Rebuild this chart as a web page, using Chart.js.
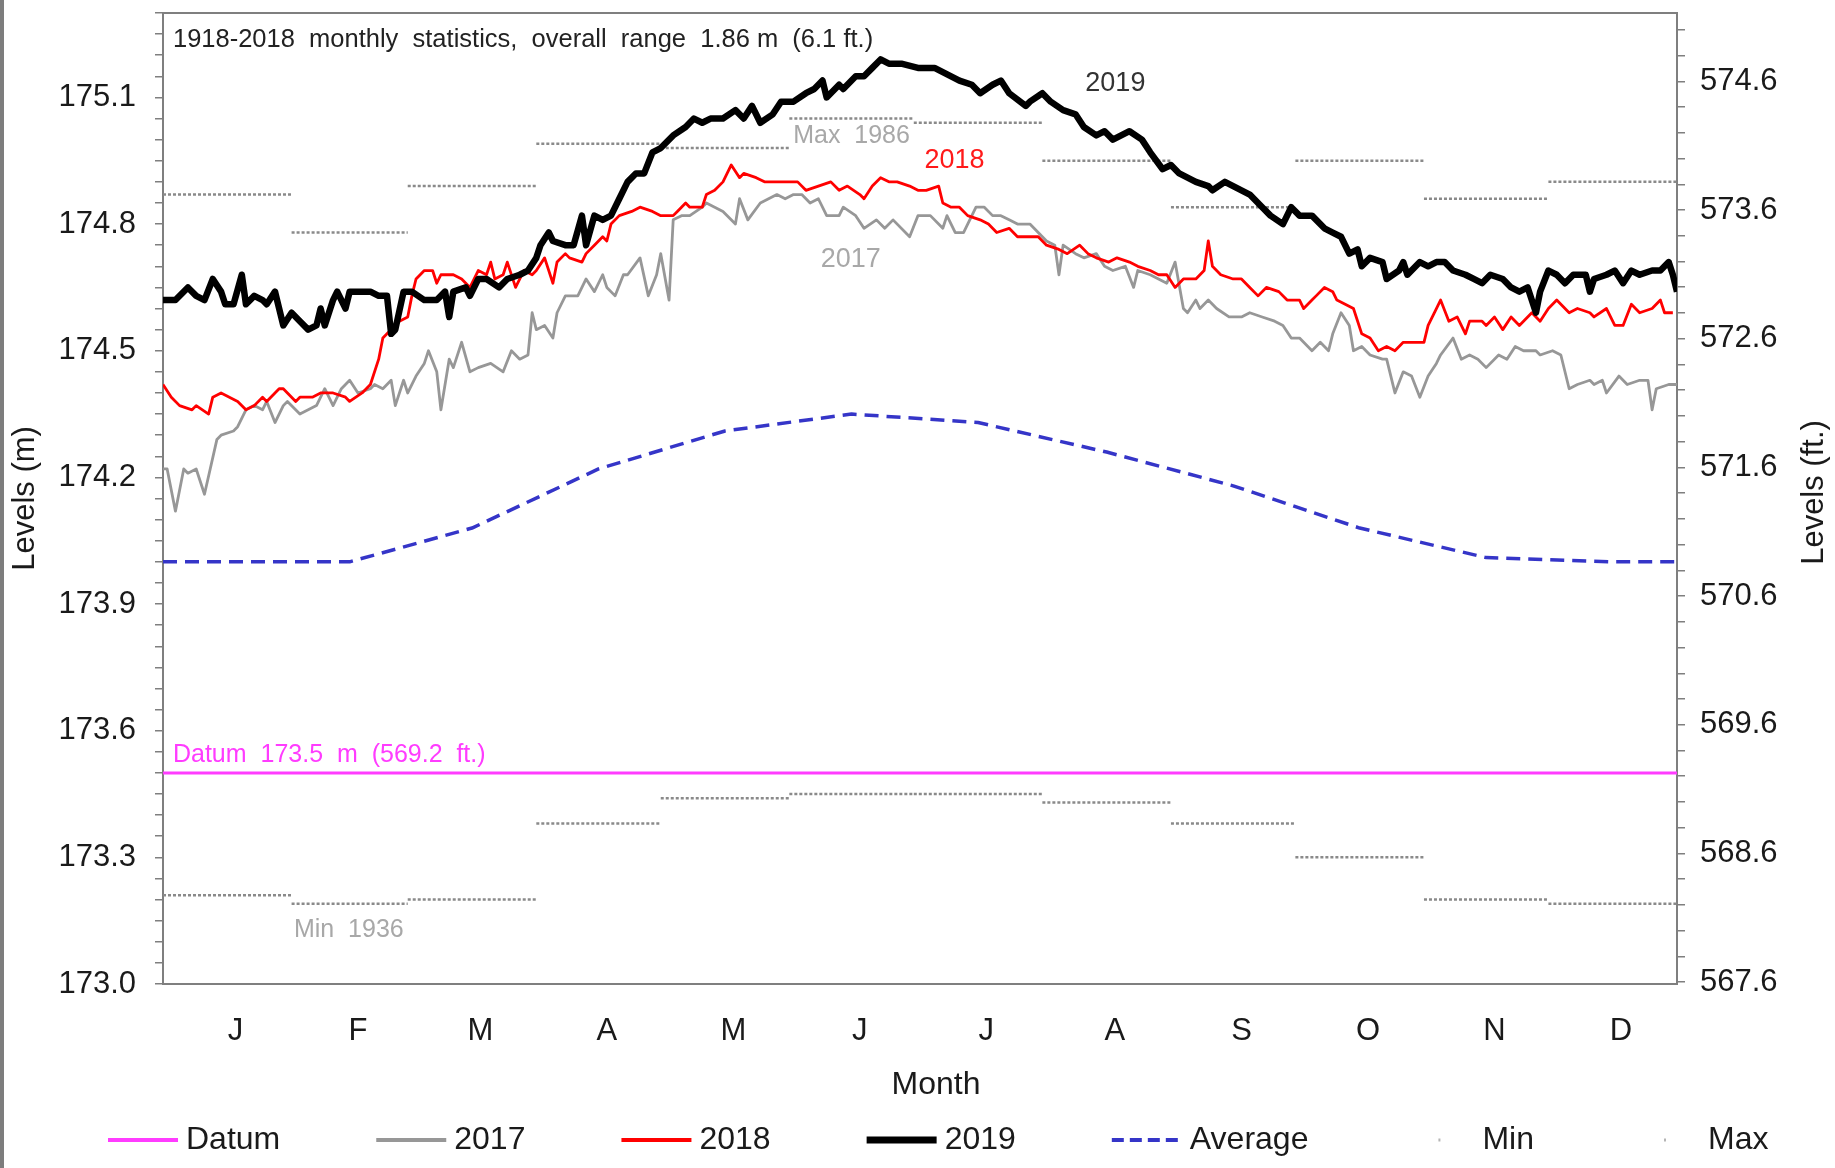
<!DOCTYPE html>
<html>
<head>
<meta charset="utf-8">
<title>Water levels</title>
<script src="https://cdn.jsdelivr.net/npm/chart.js@4.4.0/dist/chart.umd.min.js"></script>
<style>
  html, body { margin: 0; padding: 0; background: #fff; }
  #wrap { position: relative; width: 1835px; height: 1168px; }
  #edge { position: absolute; left: 0; top: 0; width: 4px; height: 1168px; background: #7d7d7d; }
</style>
</head>
<body>
<div id="wrap"><canvas id="levelsChart"></canvas><div id="edge"></div></div>
<script>
// months (x axis is day of year)
const monthLabels = ['J', 'F', 'M', 'A', 'M', 'J', 'J', 'A', 'S', 'O', 'N', 'D'];
const monthStarts = [0, 31, 59, 90, 120, 151, 181, 212, 243, 273, 304, 334, 365];

// axis tick labels
const leftMajorTicks = ['173.0', '173.3', '173.6', '173.9', '174.2', '174.5', '174.8', '175.1'];
const rightMajorTicks = ['567.6', '568.6', '569.6', '570.6', '571.6', '572.6', '573.6', '574.6'];

// 1918-2018 monthly statistics (m)
const avgLevels = [174.00, 174.00, 174.08, 174.22, 174.31, 174.35, 174.33, 174.26, 174.18, 174.08, 174.01, 174.00];
const minLevels = [173.21, 173.19, 173.20, 173.38, 173.44, 173.45, 173.45, 173.43, 173.38, 173.30, 173.20, 173.19];
const maxLevels = [174.87, 174.78, 174.89, 174.99, 174.98, 175.05, 175.04, 174.95, 174.84, 174.95, 174.86, 174.90];
const datumLevel = 173.5;

// daily readings [day of year, level m]
const readings2017 = [
  [0,174.22],[1,174.22],[3,174.12],[5,174.22],[6,174.21],[8,174.22],[10,174.16],[13,174.29],[14,174.30],[17,174.31],
  [18,174.32],[20,174.36],[22,174.37],[24,174.36],[25,174.38],[27,174.33],[29,174.37],[30,174.38],[33,174.35],[35,174.36],
  [37,174.37],[39,174.41],[41,174.37],[43,174.41],[45,174.43],[47,174.40],[50,174.41],[51,174.42],[53,174.41],[55,174.43],
  [56,174.37],[58,174.43],[59,174.40],[61,174.44],[63,174.47],[64,174.50],[66,174.45],[67,174.36],[69,174.48],[70,174.46],
  [72,174.52],[74,174.45],[76,174.46],[79,174.47],[82,174.45],[84,174.50],[86,174.48],[88,174.49],[89,174.59],[90,174.55],
  [92,174.56],[94,174.53],[95,174.59],[97,174.63],[99,174.63],[100,174.63],[102,174.67],[104,174.64],[106,174.68],[107,174.65],
  [109,174.63],[111,174.68],[112,174.68],[115,174.72],[117,174.63],[119,174.68],[120,174.73],[122,174.62],[123,174.81],[125,174.82],
  [127,174.82],[130,174.84],[131,174.85],[133,174.84],[135,174.83],[138,174.80],[139,174.86],[141,174.81],[144,174.85],[146,174.86],
  [148,174.87],[150,174.86],[152,174.87],[154,174.87],[156,174.85],[158,174.86],[160,174.82],[163,174.82],[164,174.84],[167,174.82],
  [169,174.79],[172,174.81],[174,174.79],[176,174.81],[180,174.77],[182,174.82],[185,174.82],[188,174.79],[189,174.82],[191,174.78],
  [193,174.78],[196,174.84],[198,174.84],[200,174.82],[202,174.82],[204,174.81],[206,174.80],[209,174.80],[211,174.78],[213,174.76],
  [215,174.75],[216,174.68],[217,174.75],[220,174.73],[222,174.72],[225,174.73],[227,174.70],[229,174.69],[232,174.70],[234,174.65],
  [235,174.69],[238,174.68],[240,174.67],[242,174.66],[244,174.71],[246,174.60],[247,174.59],[249,174.62],[250,174.60],[252,174.62],
  [254,174.60],[257,174.58],[260,174.58],[262,174.59],[265,174.58],[268,174.57],[270,174.56],[272,174.53],[274,174.53],[277,174.50],
  [279,174.52],[281,174.50],[282,174.54],[284,174.59],[286,174.56],[287,174.50],[289,174.51],[291,174.49],[294,174.48],[295,174.48],
  [297,174.40],[299,174.45],[301,174.44],[303,174.39],[305,174.44],[307,174.47],[308,174.49],[311,174.53],[313,174.48],[315,174.49],
  [317,174.48],[319,174.46],[322,174.49],[324,174.48],[326,174.51],[328,174.50],[331,174.50],[332,174.49],[335,174.50],[337,174.49],
  [339,174.41],[341,174.42],[344,174.43],[345,174.42],[347,174.43],[348,174.40],[351,174.44],[353,174.42],[356,174.43],[358,174.43],
  [359,174.36],[360,174.41],[363,174.42],[365,174.42]
];

const readings2018 = [
  [0,174.42],[2,174.39],[4,174.37],[7,174.36],[8,174.37],[11,174.35],[12,174.39],[14,174.40],[16,174.39],[18,174.38],
  [20,174.36],[22,174.37],[24,174.39],[25,174.38],[28,174.41],[29,174.41],[32,174.38],[33,174.39],[36,174.39],[38,174.40],
  [41,174.40],[44,174.39],[45,174.38],[48,174.40],[50,174.42],[52,174.48],[53,174.53],[54,174.54],[56,174.56],[57,174.57],
  [59,174.58],[60,174.63],[61,174.67],[63,174.69],[65,174.69],[66,174.66],[67,174.68],[69,174.68],[70,174.68],[72,174.67],
  [74,174.65],[76,174.69],[78,174.68],[79,174.71],[80,174.67],[82,174.68],[83,174.71],[85,174.65],[87,174.69],[89,174.68],
  [90,174.69],[92,174.72],[94,174.66],[95,174.71],[97,174.73],[98,174.72],[101,174.71],[102,174.73],[104,174.75],[106,174.77],
  [107,174.76],[108,174.80],[110,174.82],[113,174.83],[115,174.84],[118,174.83],[120,174.82],[123,174.82],[124,174.83],[126,174.85],
  [127,174.84],[130,174.84],[131,174.87],[133,174.88],[135,174.90],[137,174.94],[139,174.91],[140,174.92],[143,174.91],[145,174.90],
  [147,174.90],[150,174.90],[153,174.90],[155,174.88],[158,174.89],[161,174.90],[163,174.88],[165,174.89],[168,174.87],[169,174.86],
  [171,174.89],[173,174.91],[175,174.90],[177,174.90],[180,174.89],[182,174.88],[184,174.88],[187,174.89],[188,174.85],[190,174.84],
  [192,174.84],[194,174.82],[197,174.81],[199,174.80],[201,174.78],[204,174.79],[206,174.77],[209,174.77],[211,174.77],[213,174.75],
  [216,174.74],[218,174.73],[221,174.75],[223,174.73],[225,174.72],[228,174.71],[230,174.72],[233,174.71],[235,174.70],[238,174.69],
  [240,174.68],[242,174.68],[244,174.65],[246,174.67],[249,174.67],[251,174.69],[252,174.76],[253,174.70],[255,174.68],[258,174.67],
  [260,174.67],[262,174.65],[264,174.63],[266,174.65],[269,174.64],[271,174.62],[274,174.62],[275,174.60],[277,174.62],[278,174.63],
  [280,174.65],[282,174.64],[283,174.62],[285,174.61],[287,174.60],[289,174.54],[291,174.53],[293,174.50],[295,174.51],[297,174.50],
  [299,174.52],[302,174.52],[304,174.52],[305,174.56],[307,174.60],[308,174.62],[310,174.57],[312,174.58],[314,174.54],[315,174.57],
  [318,174.57],[319,174.56],[321,174.58],[323,174.55],[325,174.58],[327,174.56],[330,174.59],[332,174.57],[334,174.60],[336,174.62],
  [339,174.59],[341,174.60],[344,174.59],[345,174.58],[348,174.60],[350,174.56],[352,174.56],[354,174.61],[356,174.59],[359,174.60],
  [361,174.62],[362,174.59],[364,174.59]
];

const readings2019 = [
  [0,174.62],[3,174.62],[6,174.65],[8,174.63],[10,174.62],[12,174.67],[14,174.64],[15,174.61],[17,174.61],[19,174.68],
  [20,174.61],[22,174.63],[24,174.62],[25,174.61],[27,174.64],[29,174.56],[31,174.59],[33,174.57],[35,174.55],[37,174.56],
  [38,174.60],[39,174.56],[41,174.62],[42,174.64],[44,174.60],[45,174.64],[48,174.64],[50,174.64],[52,174.63],[54,174.63],
  [55,174.54],[56,174.55],[58,174.64],[60,174.64],[63,174.62],[66,174.62],[68,174.64],[69,174.58],[70,174.64],[73,174.65],
  [74,174.63],[76,174.67],[78,174.67],[81,174.65],[83,174.67],[86,174.68],[88,174.69],[90,174.72],[91,174.75],[93,174.78],
  [94,174.76],[97,174.75],[99,174.75],[101,174.82],[102,174.75],[104,174.82],[106,174.81],[108,174.82],[110,174.86],[112,174.90],
  [114,174.92],[116,174.92],[118,174.97],[120,174.98],[123,175.01],[126,175.03],[128,175.05],[130,175.04],[132,175.05],[135,175.05],
  [138,175.07],[140,175.05],[142,175.08],[144,175.04],[147,175.06],[149,175.09],[152,175.09],[155,175.11],[157,175.12],[159,175.14],
  [160,175.10],[163,175.13],[164,175.12],[167,175.15],[169,175.15],[171,175.17],[173,175.19],[175,175.18],[178,175.18],[182,175.17],
  [186,175.17],[188,175.16],[190,175.15],[192,175.14],[195,175.13],[197,175.11],[200,175.13],[202,175.14],[204,175.11],[208,175.08],
  [209,175.09],[212,175.11],[214,175.09],[217,175.07],[220,175.06],[222,175.03],[225,175.01],[227,175.02],[229,175.00],[233,175.02],
  [236,175.00],[238,174.97],[241,174.93],[243,174.94],[245,174.92],[249,174.90],[252,174.89],[253,174.88],[256,174.90],[258,174.89],
  [262,174.87],[265,174.84],[267,174.82],[270,174.80],[272,174.84],[274,174.82],[277,174.82],[280,174.79],[282,174.78],[284,174.77],
  [286,174.73],[288,174.74],[289,174.70],[291,174.72],[294,174.71],[295,174.67],[298,174.69],[299,174.71],[300,174.68],[303,174.71],
  [305,174.70],[307,174.71],[309,174.71],[311,174.69],[314,174.68],[316,174.67],[318,174.66],[320,174.68],[323,174.67],[325,174.65],
  [327,174.64],[329,174.65],[331,174.59],[332,174.64],[334,174.69],[336,174.68],[338,174.66],[340,174.68],[343,174.68],[344,174.64],
  [345,174.67],[348,174.68],[350,174.69],[352,174.66],[354,174.69],[356,174.68],[359,174.69],[361,174.69],[363,174.71],[364,174.68],
  [365,174.64]
];

const M_PER_FT = 0.3048;
const LEVEL_MIN = 173.0;
const LEVEL_MAX = 175.3;
const FONT = '"Liberation Sans", Arial, sans-serif';

// text notes placed in data coordinates (day, level)
const notes = [
  { text: '1918-2018  monthly  statistics,  overall  range  1.86 m  (6.1 ft.)', day: 2.4, level: 175.235, align: 'left', size: 25.5, color: '#222222' },
  { text: 'Datum  173.5  m  (569.2  ft.)', day: 2.4, level: 173.543, align: 'left', size: 25, color: '#ff3cff' },
  { text: '2019', day: 229.6, level: 175.134, align: 'center', size: 27, color: '#333333' },
  { text: '2018', day: 190.8, level: 174.951, align: 'center', size: 27, color: '#ff1a1a' },
  { text: '2017', day: 165.8, level: 174.716, align: 'center', size: 27, color: '#a8a8a8' },
  { text: 'Max  1986', day: 166.0, level: 175.008, align: 'center', size: 25, color: '#a8a8a8' },
  { text: 'Min  1936', day: 44.8, level: 173.128, align: 'center', size: 25, color: '#a8a8a8' }
];

function toPoints(readings) {
  return readings.map(r => ({ x: r[0], y: r[1] }));
}

function monthSteps(values) {
  const pts = [];
  values.forEach((v, i) => {
    pts.push({ x: monthStarts[i], y: v }, { x: monthStarts[i + 1], y: v }, { x: monthStarts[i + 1], y: null });
  });
  return pts;
}

function monthMids(values) {
  const pts = values.map((v, i) => ({ x: (monthStarts[i] + monthStarts[i + 1]) / 2, y: v }));
  pts.unshift({ x: 0, y: values[0] });
  pts.push({ x: 365, y: values[values.length - 1] });
  return pts;
}

const notesPlugin = {
  id: 'levelNotes',
  afterDatasetsDraw(chart) {
    const { ctx, chartArea, scales: { x, y } } = chart;
    ctx.save();
    ctx.textBaseline = 'middle';
    notes.forEach(n => {
      ctx.font = n.size + 'px ' + FONT;
      ctx.fillStyle = n.color;
      ctx.textAlign = n.align;
      ctx.fillText(n.text, x.getPixelForValue(n.day), y.getPixelForValue(n.level));
    });
    // axis titles that Chart.js cannot place this way
    ctx.fillStyle = '#1a1a1a';
    ctx.textAlign = 'center';
    ctx.font = '32px ' + FONT;
    ctx.fillText('Month', 936, chartArea.bottom + 101);
    ctx.font = '31px ' + FONT;
    ctx.translate(chart.width - 21, (chartArea.top + chartArea.bottom) / 2 - 6);
    ctx.rotate(-Math.PI / 2);
    ctx.fillText('Levels (ft.)', 0, 0);
    ctx.restore();
  }
};

const legendPlugin = {
  id: 'bottomLegend',
  afterDraw(chart) {
    const ctx = chart.ctx;
    ctx.save();
    ctx.font = '32px ' + FONT;
    ctx.textBaseline = 'middle';
    ctx.textAlign = 'left';
    let lx = 108;
    const ly = 1140;
    chart.data.datasets.forEach(ds => {
      ctx.strokeStyle = ds.legendColor || ds.borderColor;
      ctx.lineWidth = ds.legendWidth;
      ctx.setLineDash(ds.legendDash || []);
      ctx.lineDashOffset = ds.legendDashOffset || 0;
      ctx.beginPath();
      ctx.moveTo(lx, ly);
      ctx.lineTo(lx + 70, ly);
      ctx.stroke();
      ctx.setLineDash([]);
      ctx.fillStyle = '#1a1a1a';
      ctx.fillText(ds.label, lx + 78, ly);
      lx += 78 + ctx.measureText(ds.label).width + 96;
    });
    ctx.restore();
  }
};

const ctx = document.getElementById('levelsChart').getContext('2d');

new Chart(ctx, {
  type: 'line',
  data: {
    datasets: [
      {
        label: 'Datum',
        data: [{ x: 0, y: datumLevel }, { x: 365, y: datumLevel }],
        borderColor: '#ff3cff',
        borderWidth: 3,
        legendWidth: 4,
        order: 4
      },
      {
        label: '2017',
        data: toPoints(readings2017),
        borderColor: '#979797',
        borderWidth: 2.8,
        legendWidth: 4,
        order: 2
      },
      {
        label: '2018',
        data: toPoints(readings2018),
        borderColor: '#ff0000',
        borderWidth: 2.8,
        legendWidth: 4,
        order: 1
      },
      {
        label: '2019',
        data: toPoints(readings2019),
        borderColor: '#000000',
        borderWidth: 6.5,
        legendWidth: 7,
        order: 0
      },
      {
        label: 'Average',
        data: monthMids(avgLevels),
        borderColor: '#3535c8',
        borderWidth: 3.5,
        borderDash: [14, 8],
        legendWidth: 4,
        legendDash: [12, 6],
        order: 3
      },
      {
        label: 'Min',
        data: monthSteps(minLevels),
        borderColor: '#8a8a8a',
        borderWidth: 2.5,
        borderDash: [3, 2],
        legendColor: '#b5b5b5',
        legendWidth: 3,
        legendDash: [2, 100],
        legendDashOffset: 68,
        order: 5
      },
      {
        label: 'Max',
        data: monthSteps(maxLevels),
        borderColor: '#8a8a8a',
        borderWidth: 2.5,
        borderDash: [3, 2],
        legendColor: '#b5b5b5',
        legendWidth: 3,
        legendDash: [2, 100],
        legendDashOffset: 68,
        order: 5
      }
    ]
  },
  options: {
    responsive: true,
    maintainAspectRatio: false,
    animation: false,
    devicePixelRatio: 1,
    spanGaps: false,
    layout: { padding: { top: 13, bottom: 60, left: 0, right: 0 } },
    elements: {
      point: { radius: 0, hoverRadius: 0 },
      line: { tension: 0, borderJoinStyle: 'round', borderCapStyle: 'butt' }
    },
    plugins: {
      legend: { display: false },
      tooltip: { enabled: false }
    },
    scales: {
      x: {
        type: 'linear',
        position: 'bottom',
        min: 0,
        max: 365,
        afterFit: s => { s.height = 124; s.paddingLeft = 0; s.paddingRight = 0; },
        afterBuildTicks: s => {
          s.ticks = monthLabels.map((m, i) => ({ value: (monthStarts[i] + monthStarts[i + 1]) / 2 + 2 }));
        },
        grid: { display: false },
        border: { display: true, color: '#7f7f7f', width: 2 },
        ticks: {
          autoSkip: false,
          maxRotation: 0,
          padding: 21,
          color: '#1a1a1a',
          font: { family: FONT, size: 31 },
          callback: (v, i) => monthLabels[i]
        },
        title: { display: false }
      },
      xTop: {
        type: 'linear',
        position: 'top',
        min: 0,
        max: 365,
        afterFit: s => { s.height = 0; s.paddingLeft = 0; s.paddingRight = 0; },
        grid: { display: false },
        ticks: { display: false },
        border: { display: true, color: '#7f7f7f', width: 2 }
      },
      y: {
        type: 'linear',
        position: 'left',
        min: LEVEL_MIN,
        max: LEVEL_MAX,
        afterFit: s => { s.width = 163; s.paddingTop = 0; s.paddingBottom = 0; },
        afterBuildTicks: s => {
          const ticks = [];
          for (let k = 0; k <= 46; k++) ticks.push({ value: Math.round((LEVEL_MIN + k * 0.05) * 100) / 100 });
          s.ticks = ticks;
        },
        grid: { display: true, drawOnChartArea: false, drawTicks: true, tickLength: 8, color: '#7f7f7f', lineWidth: 1.5 },
        border: { display: true, color: '#7f7f7f', width: 2 },
        ticks: {
          autoSkip: false,
          padding: 19,
          color: '#1a1a1a',
          font: { family: FONT, size: 31 },
          callback: (v, i) => (i % 6 === 0 ? leftMajorTicks[i / 6] : '')
        },
        title: {
          display: true,
          text: 'Levels (m)',
          color: '#1a1a1a',
          font: { family: FONT, size: 31 },
          padding: { top: 7, bottom: 0 }
        }
      },
      y2: {
        type: 'linear',
        position: 'right',
        min: LEVEL_MIN / M_PER_FT,
        max: LEVEL_MAX / M_PER_FT,
        afterFit: s => { s.width = 158; s.paddingTop = 0; s.paddingBottom = 0; },
        afterBuildTicks: s => {
          const ticks = [];
          for (let k = 0; k <= 37; k++) ticks.push({ value: Math.round((567.6 + k * 0.2) * 10) / 10 });
          s.ticks = ticks;
        },
        grid: { display: true, drawOnChartArea: false, drawTicks: true, tickLength: 8, color: '#7f7f7f', lineWidth: 1.5 },
        border: { display: true, color: '#7f7f7f', width: 2 },
        ticks: {
          autoSkip: false,
          padding: 15,
          color: '#1a1a1a',
          font: { family: FONT, size: 31 },
          callback: (v, i) => (i % 5 === 0 ? rightMajorTicks[i / 5] : '')
        },
        title: { display: false }
      }
    }
  },
  plugins: [notesPlugin, legendPlugin]
});
</script>
</body>
</html>
